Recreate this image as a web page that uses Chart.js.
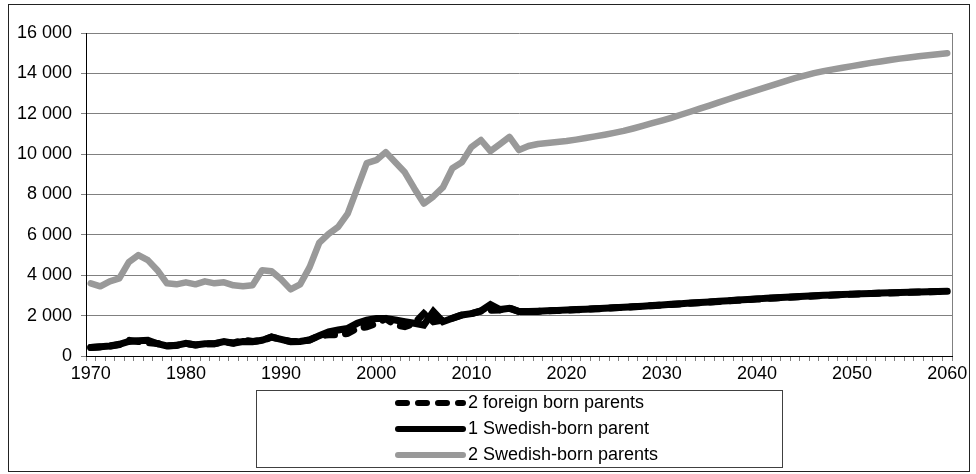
<!DOCTYPE html>
<html>
<head>
<meta charset="utf-8">
<script src="https://cdn.jsdelivr.net/npm/chart.js@4.4.1/dist/chart.umd.min.js"></script>
<style>
  html, body { margin: 0; padding: 0; background: #fff; }
  canvas { display: block; }
</style>
</head>
<body>
<canvas id="chart" width="976" height="474"></canvas>
<script>
// Years 1970-2060, one category per year
const years = Array.from({ length: 91 }, (_, i) => String(1970 + i));

const seriesLabels = ['2 foreign born parents', '1 Swedish-born parent', '2 Swedish-born parents'];

// 2 foreign born parents (dashed black)
const foreignBoth = [
  420, 450, 490, 560, 780, 720, 660, 620, 500, 520,
  620, 550, 600, 610, 700, 640, 800, 720, 760, 940,
  830, 720, 720, 790, 1000, 1050, 1050, 1120, 1370, 1450,
  1620, 1850, 1540, 1450, 1620, 2100, 1700, 1780, 1870, 2030,
  2100, 2230, 2270, 2280, 2380, 2200, 2200, 2210, 2230, 2250,
  2270, 2290, 2310, 2335, 2360, 2385, 2410, 2435, 2460, 2490,
  2520, 2550, 2580, 2610, 2640, 2670, 2700, 2730, 2760, 2790,
  2820, 2850, 2875, 2900, 2925, 2950, 2975, 3000, 3020, 3040,
  3060, 3080, 3095, 3110, 3125, 3140, 3155, 3170, 3180, 3190, 3200
];

// 1 Swedish-born parent (solid black)
const swedishOne = [
  420, 460, 500, 580, 720, 760, 780, 610, 500, 530,
  630, 550, 610, 610, 710, 630, 720, 710, 780, 940,
  820, 710, 720, 800, 1000, 1200, 1290, 1370, 1620, 1780,
  1860, 1860, 1780, 1700, 1620, 1530, 2200, 1700, 1870, 2030,
  2100, 2230, 2550, 2300, 2360, 2200, 2210, 2220, 2240, 2260,
  2280, 2300, 2320, 2345, 2370, 2395, 2420, 2445, 2470, 2500,
  2530, 2560, 2590, 2620, 2650, 2680, 2710, 2740, 2770, 2800,
  2830, 2855, 2880, 2905, 2930, 2955, 2980, 3005, 3025, 3045,
  3065, 3085, 3100, 3115, 3130, 3145, 3160, 3175, 3185, 3195, 3205
];

// 2 Swedish-born parents (grey)
const swedishBoth = [
  3600, 3450, 3700, 3850, 4650, 5000, 4750, 4250, 3600, 3550,
  3650, 3550, 3700, 3600, 3650, 3500, 3450, 3500, 4250, 4200,
  3800, 3300, 3550, 4400, 5600, 6050, 6400, 7050, 8300, 9550,
  9700, 10100, 9600, 9100, 8300, 7550, 7900, 8350, 9300, 9600,
  10350, 10700, 10150, 10500, 10850, 10200, 10400, 10500, 10550, 10600,
  10650, 10720, 10800, 10880, 10960, 11050, 11150, 11270, 11400, 11530,
  11660, 11800, 11950, 12100, 12250, 12400, 12560, 12720, 12870, 13020,
  13170, 13320, 13470, 13620, 13760, 13890, 14010, 14110, 14200, 14280,
  14360, 14440, 14520, 14590, 14660, 14730, 14790, 14850, 14900, 14950, 15000
];

const FONT = '"Liberation Sans", Arial, sans-serif';

// Frame round the whole chart, right edge of plot, and the boxed legend
const framePlugin = {
  id: 'frame',
  beforeDatasetsDraw(chart) {
    const ctx = chart.ctx, a = chart.chartArea;
    const x = Math.round(a.right) + 0.5;
    ctx.save();
    ctx.strokeStyle = '#808080';
    ctx.lineWidth = 1;
    ctx.beginPath();
    ctx.moveTo(x, a.top);
    ctx.lineTo(x, a.bottom);
    ctx.stroke();
    ctx.restore();
  },
  afterDraw(chart) {
    const ctx = chart.ctx;
    ctx.save();
    ctx.lineWidth = 1;
    ctx.strokeStyle = '#222';
    ctx.strokeRect(8.5, 4.5, 961, 467);
    ctx.strokeStyle = '#404040';
    ctx.strokeRect(256.5, 390.5, 526, 77);

    ctx.font = '18px ' + FONT;
    ctx.textBaseline = 'middle';
    ctx.textAlign = 'left';
    chart.data.datasets.forEach((ds, i) => {
      const y = 403 + i * 26;
      ctx.strokeStyle = ds.borderColor;
      ctx.lineWidth = 6;
      ctx.lineCap = 'round';
      ctx.setLineDash(ds.borderDash || []);
      ctx.beginPath();
      ctx.moveTo(398, y);
      ctx.lineTo(463, y);
      ctx.stroke();
      ctx.setLineDash([]);
      ctx.fillStyle = '#000';
      ctx.fillText(ds.label, 468, y);
    });
    ctx.restore();
  }
};

const ctx = document.getElementById('chart').getContext('2d');
new Chart(ctx, {
  type: 'line',
  data: {
    labels: years,
    datasets: [
      {
        label: seriesLabels[0], data: foreignBoth,
        borderColor: '#000', borderWidth: 7, borderDash: [9, 11],
        borderCapStyle: 'round', pointRadius: 0
      },
      {
        label: seriesLabels[1], data: swedishOne,
        borderColor: '#000', borderWidth: 7,
        borderCapStyle: 'round', pointRadius: 0
      },
      {
        label: seriesLabels[2], data: swedishBoth,
        borderColor: '#999999', borderWidth: 6.5,
        borderCapStyle: 'round', borderJoinStyle: 'round', pointRadius: 0
      }
    ]
  },
  options: {
    responsive: false,
    animation: false,
    layout: { padding: { top: 33, right: 24, bottom: 0, left: 0 } },
    plugins: {
      legend: { display: false },
      tooltip: { enabled: false }
    },
    scales: {
      x: {
        type: 'category',
        offset: true,
        afterFit: s => { s.height = 118; },
        grid: { offset: true, drawOnChartArea: false, drawTicks: true, tickLength: 5, color: '#808080' },
        border: { color: '#000', width: 1 },
        ticks: {
          autoSkip: false, maxRotation: 0, minRotation: 0, padding: 2,
          color: '#000', font: { family: FONT, size: 18 },
          callback: function (value, index) {
            return index % 10 === 0 ? this.getLabelForValue(value) : '';
          }
        }
      },
      y: {
        min: 0, max: 16000,
        afterFit: s => { s.width = 86; },
        grid: { color: '#808080', tickLength: 5 },
        border: { color: '#000', width: 1 },
        ticks: {
          stepSize: 2000, padding: 9,
          color: '#000', font: { family: FONT, size: 18 },
          callback: v => String(v).replace(/\B(?=(\d{3})+(?!\d))/g, ' ')
        }
      }
    }
  },
  plugins: [framePlugin]
});
</script>
</body>
</html>
